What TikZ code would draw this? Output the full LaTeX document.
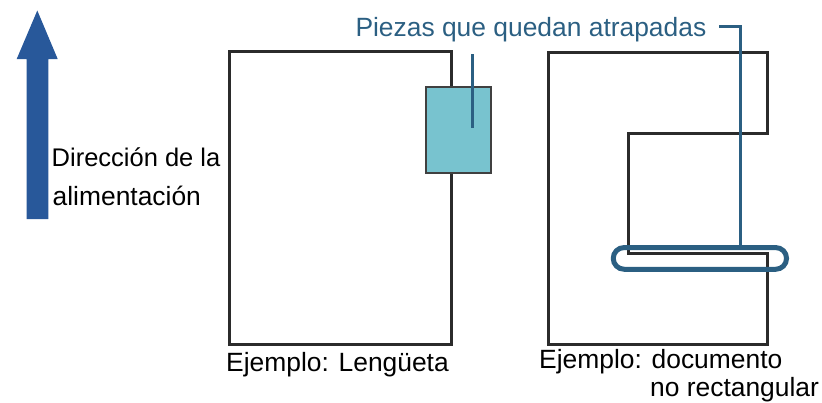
\documentclass[tikz,border=0pt]{standalone}
\usepackage{fontspec}
\setmainfont{Liberation Sans}
\definecolor{feedblue}{HTML}{28589A}
\definecolor{callout}{HTML}{2B5F82}
\definecolor{tabfill}{HTML}{78C3CF}
\definecolor{docline}{HTML}{2B2B2B}
\tikzset{
  doc/.style={draw=docline, line width=3pt, line join=miter},
  txt/.style={inner sep=0pt, anchor=base west, font=\fontsize{26.4}{30}\selectfont},
  calltxt/.style={txt, text=callout},
  callline/.style={draw=callout, line width=3pt},
  tabbox/.style={draw=black!75, line width=1.4pt, fill=tabfill, minimum width=65pt, minimum height=86pt, inner sep=0pt},
  trapbox/.style={draw=callout, line width=5pt, rounded corners=10.8pt, minimum width=173.3pt, minimum height=21.7pt, inner sep=0pt},
}
\begin{document}
\begin{tikzpicture}[x=1pt,y=-1pt]
\useasboundingbox (0,0) rectangle (822,402);
% feed direction arrow
\fill[feedblue] (26.7,219) -- (26.7,59) -- (16.7,59) -- (37.3,10.5) -- (57.7,59) -- (48.3,59) -- (48.3,219) -- cycle;
\node[txt, font=\fontsize{25.5}{30}\selectfont] (dir1) at (51.5,166.7) {Dirección de la};
\node[txt] (dir2) at (52.5,205) {alimentación};
% left document with tab
\draw[doc] (229.5,51) rectangle (451.7,344);
\node[tabbox] (tab) at (458.5,130) {};
\coordinate (t1) at (472,54);
\coordinate (t2) at (472,128);
\draw[callline] (t1) -- (t2);
\node[txt] (ex1) at (226,371.5) {Ejemplo: Lengüeta};
% right document, non-rectangular
\draw[doc] (548,52) -- (767,52) -- (767,133) -- (628,133) -- (628,253) -- (767,253) -- (767,344) -- (548,344) -- cycle;
\node[trapbox] (trap) at (699.9,258.4) {};
\node[txt] (ex2) at (539,368.3) {Ejemplo: documento};
\node[txt] (ex3) at (650,396.7) {no rectangular};
% callout label
\node[calltxt] (lbl) at (355.3,36.7) {Piezas que quedan atrapadas};
\coordinate (c1) at (719,26.7);
\coordinate (c2) at (740,26.7);
\draw[callline] (c1) -- (c2) -- (c2 |- trap.north);
\end{tikzpicture}
\end{document}
